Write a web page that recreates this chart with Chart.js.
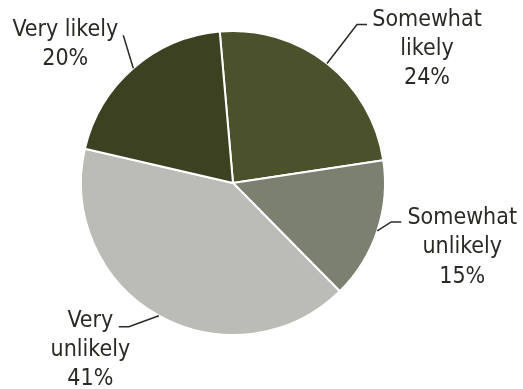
<!DOCTYPE html>
<html>
<head>
<meta charset="utf-8">
<script src="https://cdn.jsdelivr.net/npm/chart.js@4/dist/chart.umd.min.js"></script>
<style>
  html, body { margin: 0; padding: 0; background: #ffffff; }
  #wrap { width: 523px; height: 389px; }
</style>
</head>
<body>
<div id="wrap"><canvas id="c" width="523" height="389"></canvas></div>
<script>
// Survey answers, drawn clockwise from just left of twelve o'clock
const categories = ['Somewhat likely', 'Somewhat unlikely', 'Very unlikely', 'Very likely'];
const shares = [24, 15, 41, 20];
const labelLines = [
  ['Somewhat', 'likely', '24%'],
  ['Somewhat', 'unlikely', '15%'],
  ['Very', 'unlikely', '41%'],
  ['Very likely', '20%']
];
const sliceColors = ['#4a512b', '#7b8070', '#bbbcb6', '#3c4221'];

// Leader-line bends and the first text baseline, relative to where each leader leaves the pie
const labelLayout = [
  { path: [[30, -39], [40, -39]], text: [100, -38] },
  { path: [[14, -9], [24, -9]], text: [85, -7] },
  { path: [[-30, 11], [-40, 11]], text: [-68.5, 11] },
  { path: [[-10, -33]], text: [-68, -32.5] }
];

const FONT = '23px "DejaVu Sans Condensed", "DejaVu Sans", Verdana, sans-serif';
const LINE_H = 29.3;

const calloutPlugin = {
  id: 'callouts',
  afterDraw(chart) {
    const ctx = chart.ctx;
    const meta = chart.getDatasetMeta(0);
    ctx.save();
    ctx.font = FONT;
    ctx.fillStyle = '#2a2a24';
    ctx.strokeStyle = '#2a2a24';
    ctx.lineWidth = 1.5;
    ctx.textAlign = 'center';
    ctx.textBaseline = 'alphabetic';
    meta.data.forEach((arc, i) => {
      const p = arc.getProps(['x', 'y', 'startAngle', 'endAngle', 'outerRadius'], true);
      const mid = (p.startAngle + p.endAngle) / 2;
      const ax = p.x + Math.cos(mid) * p.outerRadius;
      const ay = p.y + Math.sin(mid) * p.outerRadius;
      const lay = labelLayout[i];
      ctx.beginPath();
      ctx.moveTo(ax, ay);
      lay.path.forEach(([dx, dy]) => ctx.lineTo(ax + dx, ay + dy));
      ctx.stroke();
      const cx = ax + lay.text[0];
      const by = ay + lay.text[1];
      labelLines[i].forEach((t, k) => ctx.fillText(t, cx, by + k * LINE_H));
    });
    ctx.restore();
  }
};

new Chart(document.getElementById('c'), {
  type: 'pie',
  data: {
    labels: categories,
    datasets: [{
      data: shares,
      backgroundColor: sliceColors,
      borderColor: '#ffffff',
      borderWidth: 2
    }]
  },
  options: {
    responsive: false,
    animation: false,
    rotation: -5,
    layout: { padding: { left: 80, right: 137, top: 30, bottom: 53 } },
    plugins: {
      legend: { display: false },
      tooltip: { enabled: false }
    }
  },
  plugins: [calloutPlugin]
});
</script>
</body>
</html>
